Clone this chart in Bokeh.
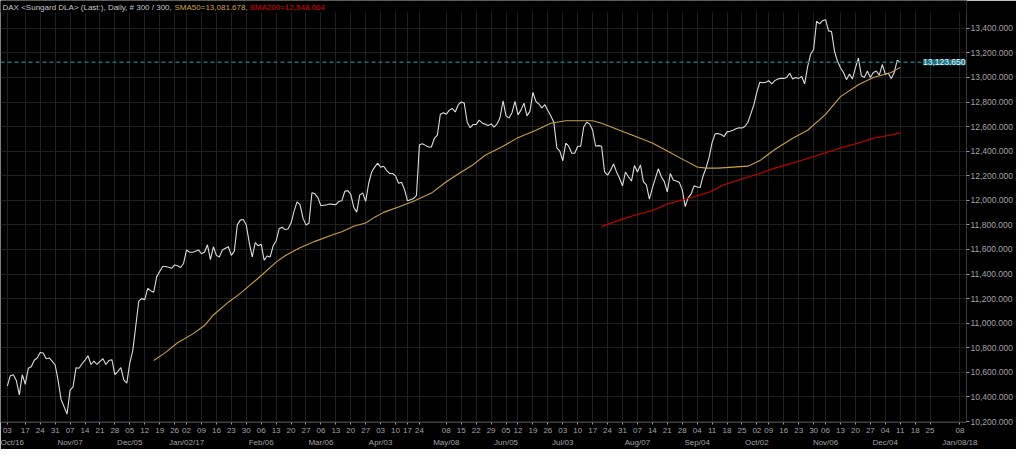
from bokeh.plotting import figure
from bokeh.models import (Range1d, LinearAxis, FixedTicker, NumeralTickFormatter,
                          Span, Label, BoxAnnotation)
from bokeh.embed import file_html
from bokeh.resources import INLINE

# ---------------- data ----------------
close = [
    10490, 10573, 10581, 10534, 10417, 10581, 10503, 10633, 10646, 10699,
    10717, 10761, 10758, 10711, 10717, 10691, 10660, 10534, 10378, 10320,
    10260, 10456, 10482, 10638, 10633, 10670, 10700, 10735, 10664, 10691,
    10664, 10690, 10711, 10664, 10696, 10703, 10581, 10607, 10638, 10539,
    10513, 10678, 10777, 10977, 11179, 11200, 11192, 11283, 11265, 11252,
    11377, 11421, 11461, 11461, 11455, 11447, 11474, 11468, 11453, 11486,
    11596, 11578, 11578, 11585, 11596, 11565, 11578, 11638, 11518, 11622,
    11552, 11539, 11596, 11610, 11622, 11552, 11586, 11800, 11839, 11844,
    11800, 11656, 11539, 11656, 11630, 11643, 11513, 11547, 11539, 11630,
    11669, 11768, 11781, 11761, 11768, 11815, 11910, 11987, 11965, 11855,
    11800, 11813, 12061, 12053, 12022, 11956, 11960, 11964, 11970, 11967,
    11964, 11991, 11996, 12074, 12079, 12048, 11943, 11904, 12042, 12061,
    11991, 12139, 12230, 12270, 12303, 12269, 12277, 12244, 12218, 12218,
    12199, 12139, 12147, 12087, 11996, 12005, 12014, 12040, 12453, 12461,
    12447, 12434, 12434, 12505, 12531, 12700, 12713, 12700, 12734, 12747,
    12719, 12778, 12800, 12791, 12635, 12591, 12617, 12617, 12653, 12630,
    12620, 12609, 12622, 12596, 12622, 12674, 12810, 12687, 12669, 12713,
    12805, 12695, 12734, 12791, 12687, 12726, 12878, 12805, 12784, 12752,
    12778, 12731, 12687, 12635, 12427, 12401, 12322, 12466, 12440, 12383,
    12383, 12440, 12440, 12596, 12635, 12622, 12570, 12440, 12445, 12440,
    12231, 12205, 12244, 12296, 12231, 12179, 12118, 12231, 12192, 12157,
    12283, 12231, 12288, 12152, 12126, 12009, 12100, 12179, 12257, 12192,
    12152, 12069, 12218, 12165, 12157, 12147, 12087, 11949, 12022, 12053,
    12118, 12108, 12105, 12200, 12265, 12350, 12470, 12541, 12544, 12536,
    12518, 12557, 12562, 12570, 12583, 12590, 12588, 12601, 12635, 12705,
    12778, 12883, 12961, 12956, 12961, 12974, 12948, 12974, 12987, 12992,
    12992, 13000, 13034, 12987, 13000, 12992, 13008, 12948, 13087, 13188,
    13227, 13457, 13436, 13462, 13470, 13379, 13373, 13213, 13131, 13079,
    13040, 12982, 13027, 12987, 13079, 13157, 13013, 13000, 13052, 13000,
    13040, 13052, 13019, 13105, 13027, 13034, 12992, 13040, 13140, 13123.65,
]
bars = list(range(len(close)))

sma50_bar = [49, 53, 57, 62, 66, 69, 74, 77, 79, 84, 90, 93, 98, 103, 109, 112,
             116, 120, 123, 126, 131, 136, 142, 147, 152, 156, 160, 166, 171,
             177, 182, 187, 191, 196, 199, 205, 210, 216, 221, 227, 231, 234,
             238, 243, 248, 252, 257, 263, 268, 274, 279, 285, 290, 296, 299]
sma50_val = [10696, 10763, 10841, 10911, 10981, 11067, 11171, 11224, 11263,
             11366, 11497, 11549, 11614, 11666, 11719, 11745, 11789, 11816,
             11863, 11902, 11946, 11993, 12059, 12151, 12231, 12290, 12367,
             12440, 12510, 12570, 12627, 12648, 12648, 12648, 12627, 12570,
             12523, 12466, 12401, 12323, 12271, 12262, 12262, 12270, 12278,
             12323, 12414, 12505, 12570, 12700, 12844, 12940, 13000, 13040,
             13081.678]

sma200_bar = [199, 205, 210, 216, 221, 227, 235, 240, 246, 252, 257, 263, 268,
              274, 279, 285, 290, 296, 299]
sma200_val = [11786, 11839, 11878, 11917, 11970, 12009, 12065, 12126, 12173,
              12218, 12262, 12304, 12340, 12387, 12426, 12466, 12505, 12531,
              12548.064]

last_price = 13123.65

title_main = "DAX <Sungard DLA> (Last:), Daily, # 300 / 300, "
title_sma50 = "SMA50=13,081.678, "
title_sma200 = "SMA200=12,548.064"

week_ticks = [0, 6, 11, 16, 21, 26, 31, 36, 41, 46, 51, 56, 60, 65, 70, 75, 80,
              85, 90, 95, 100, 105, 110, 115, 120, 125, 130, 134, 138, 147, 152,
              157, 162, 167, 171, 176, 181, 186, 191, 196, 201, 206, 211, 216,
              221, 226, 231, 236, 241, 246, 251, 255, 260, 265, 270, 274, 279,
              284, 289, 294, 299, 304, 309, 319]
week_labels = ["03", "17", "24", "31", "07", "14", "21", "28", "05", "12",
               "19", "26", "02", "09", "16", "23", "30", "06", "13", "20",
               "27", "06", "13", "20", "27", "03", "10", "17", "24", "08",
               "15", "22", "29", "05", "12", "19", "26", "03", "10", "17",
               "24", "31", "07", "14", "21", "28", "04", "11", "18", "25",
               "02", "09", "16", "23", "30", "06", "13", "20", "27", "04",
               "11", "18", "25", "08"]

month_ticks = [1.5, 21, 41, 60, 85, 105, 125, 147, 167, 186, 211, 231, 251,
               274, 294, 319]
month_labels = ["Oct/16", "Nov/07", "Dec/05", "Jan/02/17", "Feb/06", "Mar/06",
                "Apr/03", "May/08", "Jun/05", "Jul/03", "Aug/07", "Sep/04",
                "Oct/02", "Nov/06", "Dec/04", "Jan/08/18"]

y_ticks = [10200, 10400, 10600, 10800, 11000, 11200, 11400, 11600, 11800,
           12000, 12200, 12400, 12600, 12800, 13000, 13200, 13400]

# ---------------- styling ----------------
BG = "#000000"
GRID = "#202020"
TXT = "#a3a3a3"
FONT = "Liberation Sans"

x_start, x_end = -2.3, 321.2
y_start, y_top = 10192, 13626     # frame range (title strip at the very top)
y_plot_top = 13528                # top of the gridded area

p = figure(width=1016, height=449, output_backend="svg", toolbar_location=None,
           x_range=Range1d(x_start, x_end), y_range=Range1d(y_start, y_top),
           x_axis_location="below", y_axis_location="right",
           background_fill_color=BG, border_fill_color=BG,
           min_border_left=0, min_border_top=0, min_border_bottom=0,
           min_border_right=0, outline_line_color=None)

# axes
xa = p.xaxis[0]
xa.ticker = FixedTicker(ticks=week_ticks)
xa.major_label_overrides = {t: l for t, l in zip(week_ticks, week_labels)}
xa.axis_line_color = None
xa.major_tick_line_color = "#9a9a9a"
xa.major_tick_out = 2
xa.major_tick_in = 0
xa.minor_tick_line_color = None
xa.major_label_standoff = 3
xa.major_label_text_color = TXT
xa.major_label_text_font = FONT
xa.major_label_text_font_size = "8px"

ma = LinearAxis(ticker=FixedTicker(ticks=month_ticks),
                major_label_overrides={t: l for t, l in zip(month_ticks, month_labels)},
                axis_line_color=None, major_tick_line_color=None,
                minor_tick_line_color=None, major_tick_out=0, major_tick_in=0,
                major_label_standoff=2, major_label_text_color=TXT,
                major_label_text_font=FONT, major_label_text_font_size="8px")
p.add_layout(ma, "below")

ya = p.yaxis[0]
ya.ticker = FixedTicker(ticks=y_ticks)
ya.formatter = NumeralTickFormatter(format="0,0.000")
ya.axis_line_color = "#3a3a3a"
ya.major_tick_line_color = "#9a9a9a"
ya.major_tick_out = 3
ya.major_tick_in = 0
ya.minor_tick_line_color = None
ya.major_label_standoff = 1
ya.major_label_text_color = TXT
ya.major_label_text_font = FONT
ya.major_label_text_font_size = "8.5px"

p.xgrid.grid_line_color = GRID
p.ygrid.grid_line_color = GRID
p.xgrid.ticker = FixedTicker(ticks=week_ticks)
p.ygrid.ticker = FixedTicker(ticks=y_ticks)

# series
p.line(bars, close, line_color="#dcdcdc", line_width=1.1)
p.line(sma50_bar, sma50_val, line_color="#c9a14c", line_width=1.1)
p.line(sma200_bar, sma200_val, line_color="#d20000", line_width=1.1)

# last price line and tag (tag kept inside the frame, at its right edge)
p.add_layout(Span(location=last_price, dimension="width", line_color="#1d6b7a",
                  line_dash="4 3", line_width=1.5))
p.add_layout(Label(x=x_end, y=last_price, x_offset=-1, text=f"{last_price:,.3f}",
                   text_baseline="middle", text_align="right",
                   text_color="#e6f2f5", text_font=FONT, text_font_size="8.5px",
                   background_fill_color="#1b7386"))

# title strip (no grid) and title texts
p.add_layout(BoxAnnotation(bottom=y_plot_top, fill_color=BG, fill_alpha=1.0,
                           line_color=None))
for txt, col, off in [(title_main, "#c8c8c8", 2), (title_sma50, "#d0a24a", 174),
                      (title_sma200, "#e00000", 249)]:
    p.add_layout(Label(x=x_start, y=y_top, x_offset=off, y_offset=-2, text=txt,
                       text_baseline="top", text_align="left", text_color=col,
                       text_font=FONT, text_font_size="8px"))

open("out.html", "w").write(file_html(p, INLINE))
